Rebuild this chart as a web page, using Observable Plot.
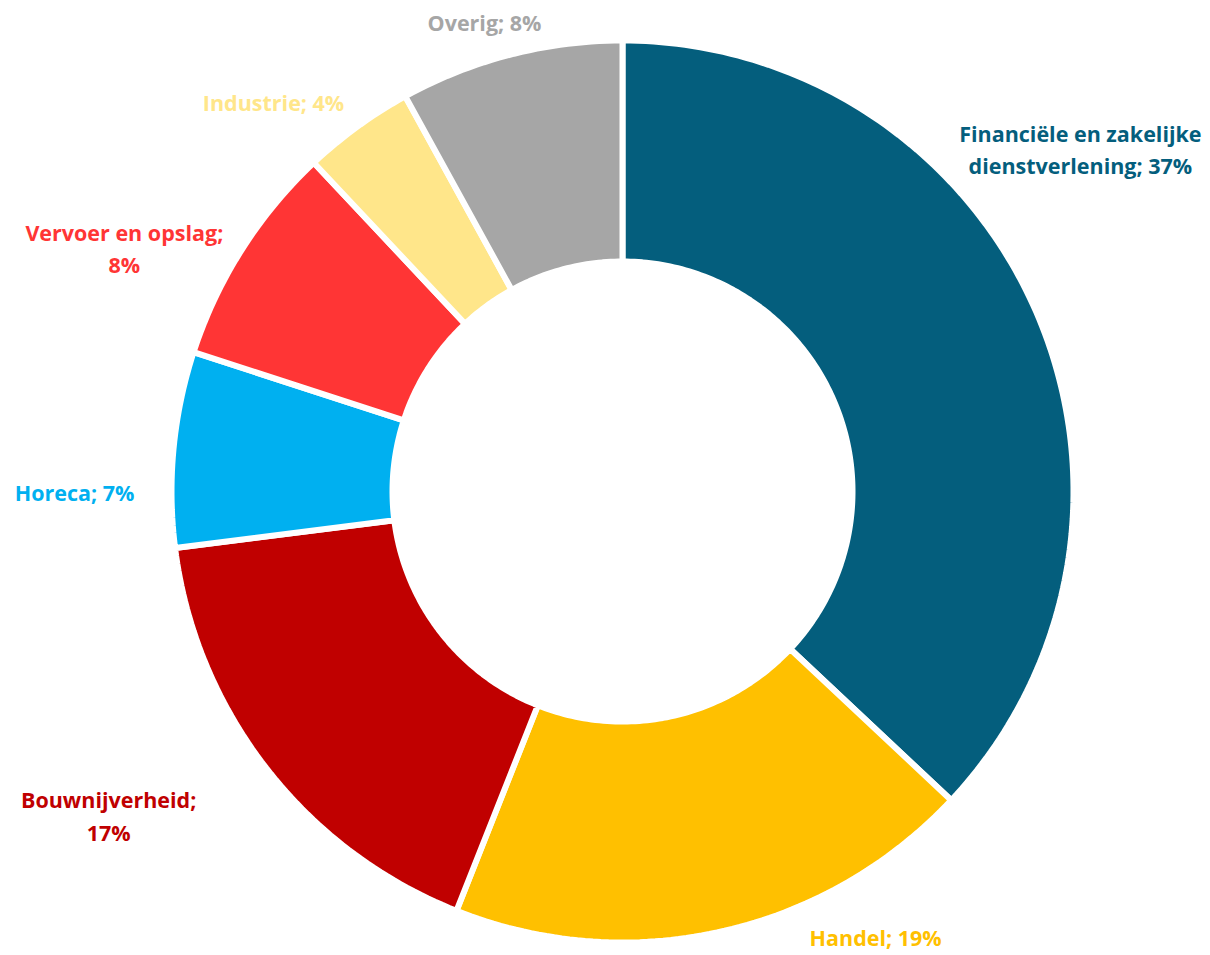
<!DOCTYPE html>
<html>
<head>
<meta charset="utf-8">
<script src="https://cdn.jsdelivr.net/npm/d3@7"></script>
<script src="https://cdn.jsdelivr.net/npm/@observablehq/plot@0.6"></script>
<style>
  html, body { margin: 0; padding: 0; background: #fff; }
  #chart { width: 1210px; height: 955px; }
</style>
</head>
<body>
<div id="chart"></div>
<script>
// ---- data ----
const categories = ["Financiële en zakelijke dienstverlening", "Handel", "Bouwnijverheid", "Horeca", "Vervoer en opslag", "Industrie", "Overig"];
const shares = [37, 19, 17, 7, 8, 4, 8];
const labelTexts = ["Financiële en zakelijke\ndienstverlening; 37%", "Handel; 19%", "Bouwnijverheid;\n17%", "Horeca; 7%", "Vervoer en opslag;\n8%", "Industrie; 4%", "Overig; 8%"];
const colors = ["#045E7D", "#FFC000", "#C00000", "#00B0F0", "#FF3535", "#FFE68A", "#A6A6A6"];

// ---- layout (in units of the outer radius, centre = 0,0) ----
const labelX = [1.022, 0.565, -1.147, -1.223, -1.112, -0.779, -0.308];
const labelY = [0.768, -0.990, -0.719, 0.002, 0.547, 0.873, 1.051];

const W = 1210, H = 955, cx = 622, cy = 491, R = 448;
const inner = 230 / R;
const outer = 1 + 3 / R;

// build slice polygons from the shares
const total = d3.sum(shares);
const slices = [];
let acc = 0;
shares.forEach((v, i) => {
  const a0 = acc / total * 2 * Math.PI;
  acc += v;
  const a1 = acc / total * 2 * Math.PI;
  const n = Math.max(8, Math.ceil((a1 - a0) / (2 * Math.PI) * 360));
  for (let k = 0; k <= n; k++) {
    const a = a0 + (a1 - a0) * k / n;
    slices.push({name: categories[i], x: outer * Math.sin(a), y: outer * Math.cos(a)});
  }
  for (let k = n; k >= 0; k--) {
    const a = a0 + (a1 - a0) * k / n;
    slices.push({name: categories[i], x: inner * Math.sin(a), y: inner * Math.cos(a)});
  }
});

const labels = categories.map((c, i) => ({name: c, text: labelTexts[i], x: labelX[i], y: labelY[i]}));

const chart = Plot.plot({
  width: W,
  height: H,
  margin: 0,
  style: {background: "#fff", fontFamily: "'Open Sans', Lato, sans-serif"},
  x: {domain: [-cx / R, (W - cx) / R], range: [0, W], axis: null},
  y: {domain: [-(H - cy) / R, cy / R], range: [H, 0], axis: null},
  color: {domain: categories, range: colors},
  marks: [
    Plot.line(slices, {x: "x", y: "y", z: "name", fill: "name", stroke: "white", strokeWidth: 6, curve: "linear-closed", strokeLinejoin: "miter"}),
    Plot.text(labels, {x: "x", y: "y", text: "text", fill: "name", fontSize: 21.5, fontWeight: "bold", lineHeight: 1.53, textAnchor: "middle"})
  ]
});
document.getElementById("chart").appendChild(chart);
</script>
</body>
</html>
